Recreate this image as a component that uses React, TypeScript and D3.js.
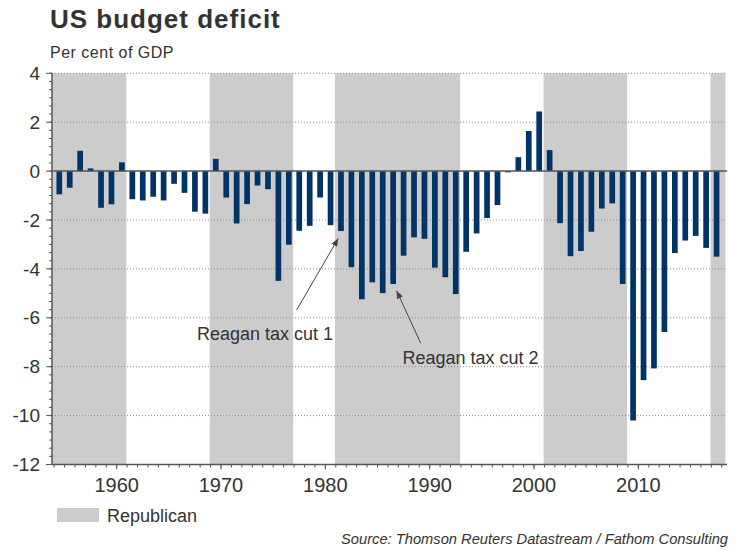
import React from "react";
import * as d3 from "d3";

const years: number[] = d3.range(1954, 2018);
const deficit: number[] = [
  -0.95, -0.68, 0.83, 0.11, -1.5, -1.36, 0.36, -1.15, -1.2, -1.05,
  -1.2, -0.52, -0.89, -1.66, -1.74, 0.5, -1.08, -2.14, -1.35, -0.59,
  -0.74, -4.49, -3.01, -2.44, -2.24, -1.08, -2.21, -2.45, -3.93, -5.24,
  -4.55, -4.99, -4.62, -3.46, -2.71, -2.77, -3.95, -4.34, -5.03, -3.3,
  -2.55, -1.92, -1.39, -0.05, 0.57, 1.64, 2.44, 0.86, -2.13, -3.48,
  -3.27, -2.48, -1.53, -1.32, -4.62, -10.2, -8.55, -8.07, -6.58, -3.35,
  -2.84, -2.65, -3.14, -3.5,
];
const republicanStart: number[] = [1953, 1969, 1981, 2001, 2017];
const republicanEnd: number[] = [1961, 1977, 1993, 2009, 2018.35];
const yTicks: number[] = [4, 2, 0, -2, -4, -6, -8, -10, -12];
const xTicks: number[] = [1960, 1970, 1980, 1990, 2000, 2010];
const annotationLabels: string[] = ["Reagan tax cut 1", "Reagan tax cut 2"];
const annotationTextAt: [number, number][] = [[1967.7, -6.91], [1987.4, -7.9]];
const annotationTail: [number, number][] = [[1977.25, -5.68], [1989.14, -7.04]];
const annotationTip: [number, number][] = [[1981.24, -2.75], [1986.83, -4.89]];

const W = 745;
const H = 550;
const left = 52;
const right = 727;
const top = 73.3;
const bottom = 464.5;
const FONT = "'Liberation Sans', Arial, Helvetica, sans-serif";
const TXT = "#333333";
const BAR = "#003366";
const SHADE = "#cccccc";
const OFFSET = -0.08;

export default function App() {
  const x = d3.scaleLinear().domain([1953.8, 2018.5]).range([left, right]);
  const y = d3.scaleLinear().domain([-12, 4]).range([bottom, top]);
  const barW = 5.7;
  const minorY = d3.range(-12, 4.001, 1 / 3);
  const minorX = d3.range(1954, 2019);

  return (
    <svg width={W} height={H} style={{ position: "absolute", left: 0, top: 0, background: "#fff" }}>
      <defs>
        <marker id="ah" viewBox="0 0 10 10" refX="10" refY="5" markerWidth="8" markerHeight="8" markerUnits="userSpaceOnUse" orient="auto">
          <path d="M0,1 L10,5 L0,9 Z" fill="#444" />
        </marker>
      </defs>
      <text x={50} y={28} fontFamily={FONT} fontSize={26} fontWeight="bold" letterSpacing={1} fill={TXT}>US budget deficit</text>
      <text x={50} y={57.5} fontFamily={FONT} fontSize={16} letterSpacing={0.5} fill={TXT}>Per cent of GDP</text>

      {republicanStart.map((s, i) => {
        const x0 = x(Math.max(s + OFFSET, 1953.8));
        const x1 = x(Math.min(republicanEnd[i] + (republicanEnd[i] % 1 === 0 ? OFFSET : 0), 2018.5));
        return <rect key={"r" + i} x={x0} y={top} width={x1 - x0} height={bottom - top} fill={SHADE} />;
      })}

      {yTicks.filter((t) => t !== 0 && t !== -12).map((t) => (
        <line key={"g" + t} x1={left} x2={right} y1={y(t)} y2={y(t)} stroke="#8a8a8a" strokeWidth={1} strokeDasharray="1,2" />
      ))}

      {years.map((yr, i) => {
        const v = deficit[i];
        const y0 = y(Math.max(0, v));
        const y1 = y(Math.min(0, v));
        return <rect key={"b" + yr} x={x(yr + 0.5) - barW / 2} y={y0} width={barW} height={Math.max(0.8, y1 - y0)} fill={BAR} />;
      })}

      <line x1={left} x2={right} y1={y(0)} y2={y(0)} stroke="#555" strokeWidth={1.5} />

      <line x1={left} x2={left} y1={top} y2={bottom} stroke="#555" strokeWidth={1.5} />
      {minorY.map((t, i) => (
        <line key={"my" + i} x1={left - 3} x2={left} y1={y(t)} y2={y(t)} stroke="#555" strokeWidth={1} />
      ))}
      {yTicks.map((t) => (
        <g key={"yt" + t}>
          <line x1={left - 6} x2={left} y1={y(t)} y2={y(t)} stroke="#555" strokeWidth={1} />
          <text x={40} y={y(t)} dy="0.35em" textAnchor="end" fontFamily={FONT} fontSize={19} fill={TXT}>{t}</text>
        </g>
      ))}

      <line x1={left} x2={right} y1={bottom} y2={bottom} stroke="#555" strokeWidth={1.5} />
      {minorX.map((t) => (
        <line key={"mx" + t} x1={x(t)} x2={x(t)} y1={bottom} y2={bottom + 3} stroke="#555" strokeWidth={1} />
      ))}
      {xTicks.map((t) => (
        <g key={"xt" + t}>
          <line x1={x(t)} x2={x(t)} y1={bottom} y2={bottom + 5} stroke="#555" strokeWidth={1} />
          <text x={x(t)} y={491.5} textAnchor="middle" fontFamily={FONT} fontSize={20} fill={TXT}>{t}</text>
        </g>
      ))}

      {annotationLabels.map((lab, i) => (
        <g key={"a" + i}>
          <line x1={x(annotationTail[i][0])} y1={y(annotationTail[i][1])} x2={x(annotationTip[i][0])} y2={y(annotationTip[i][1])} stroke="#444" strokeWidth={1} markerEnd="url(#ah)" />
          <text x={x(annotationTextAt[i][0])} y={y(annotationTextAt[i][1])} fontFamily={FONT} fontSize={18} fill={TXT}>{lab}</text>
        </g>
      ))}

      <rect x={57} y={508} width={42} height={14} fill={SHADE} />
      <text x={107} y={522.3} fontFamily={FONT} fontSize={18} fill={TXT}>Republican</text>

      <text x={728} y={543.5} textAnchor="end" fontFamily={FONT} fontSize={14.7} fontStyle="italic" fill={TXT}>Source: Thomson Reuters Datastream / Fathom Consulting</text>
    </svg>
  );
}
